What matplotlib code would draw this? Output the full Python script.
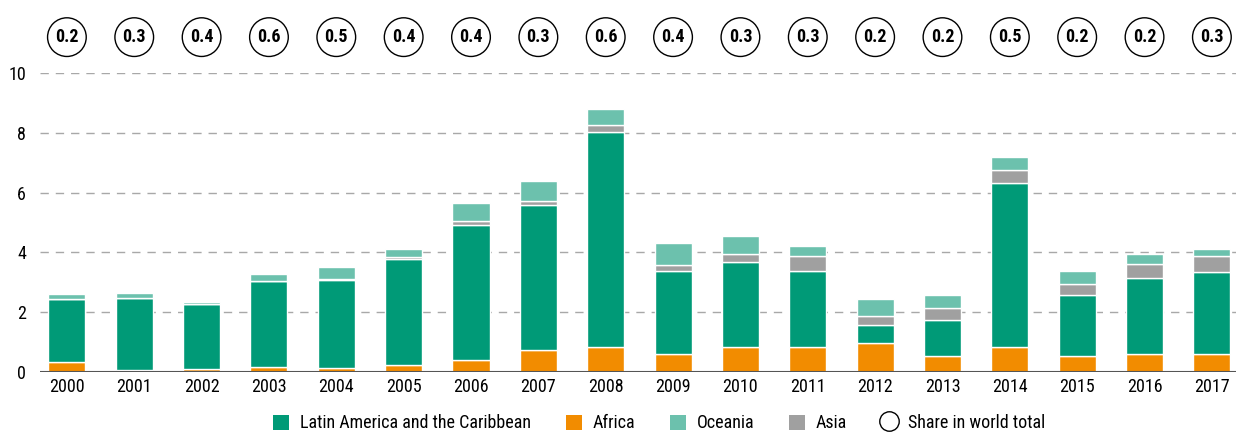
import matplotlib
matplotlib.use("Agg")
import matplotlib.pyplot as plt
import numpy as np
from matplotlib.patches import Patch
from matplotlib.lines import Line2D
from matplotlib import font_manager

years = [str(y) for y in range(2000, 2018)]
africa = [0.33, 0.05, 0.11, 0.16, 0.12, 0.22, 0.39, 0.75, 0.84, 0.59, 0.84, 0.84, 0.98, 0.52, 0.84, 0.52, 0.61, 0.61]
latam = [2.12, 2.44, 2.15, 2.88, 2.96, 3.57, 4.54, 4.82, 7.19, 2.80, 2.85, 2.55, 0.60, 1.23, 5.49, 2.07, 2.52, 2.73]
asia = [0.00, 0.00, 0.00, 0.00, 0.03, 0.06, 0.11, 0.15, 0.24, 0.20, 0.25, 0.48, 0.28, 0.39, 0.41, 0.34, 0.49, 0.55]
oceania = [0.17, 0.16, 0.08, 0.24, 0.40, 0.26, 0.61, 0.67, 0.52, 0.71, 0.61, 0.33, 0.58, 0.45, 0.45, 0.45, 0.34, 0.21]
share = ["0.2", "0.3", "0.4", "0.6", "0.5", "0.4", "0.4", "0.3", "0.6", "0.4", "0.3", "0.3", "0.2", "0.2", "0.5", "0.2", "0.2", "0.3"]

c_latam = "#009A77"
c_africa = "#F28C00"
c_oceania = "#6CC1AD"
c_asia = "#A0A0A0"

names = {f.name for f in font_manager.fontManager.ttflist}
main = "Liberation Sans"
for cand in ["Roboto Condensed", "Liberation Sans Narrow", "Roboto"]:
    if cand in names:
        main = cand
        break
plt.rcParams["font.family"] = [main, "DejaVu Sans"]

fig = plt.figure(figsize=(12.37, 4.32), dpi=100)
ax = fig.add_axes([0.0323, 0.139, 0.967, 0.692])

x = np.arange(len(years))
w = 0.55
a = np.array(africa); l = np.array(latam); s = np.array(asia); o = np.array(oceania)
kw = dict(width=w, edgecolor="white", linewidth=1.0, zorder=3)
ax.bar(x, a, color=c_africa, **kw)
ax.bar(x, l, bottom=a, color=c_latam, **kw)
ax.bar(x, s, bottom=a + l, color=c_asia, **kw)
ax.bar(x, o, bottom=a + l + s, color=c_oceania, **kw)

ax.set_xlim(-0.4, len(years) - 1 + 0.36)
ax.set_ylim(0, 10)
ax.set_yticks([0, 2, 4, 6, 8, 10])
ax.set_yticklabels(["0", "2", "4", "6", "8", "10"], fontsize=13)
ax.set_xticks(x)
ax.set_xticklabels(years, fontsize=13)
ax.tick_params(length=0, pad=4)
ax.tick_params(axis="y", pad=10)
for v in [2, 4, 6, 8, 10]:
    ax.axhline(v, color="#A8A8A8", linestyle=(0, (6, 5)), linewidth=1.0, zorder=1)
ax.axhline(0, color="#555555", linewidth=1.5, zorder=4)
for sp in ax.spines.values():
    sp.set_visible(False)

for xi, t in zip(x, share):
    ax.text(xi, 11.2, t, ha="center", va="center", fontsize=13, fontweight="bold",
            clip_on=False,
            bbox=dict(boxstyle="circle,pad=0.42", facecolor="white", edgecolor="black", linewidth=1.0))

handles = [
    Patch(facecolor=c_latam, edgecolor="none", label="Latin America and the Caribbean"),
    Patch(facecolor=c_africa, edgecolor="none", label="Africa"),
    Patch(facecolor=c_oceania, edgecolor="none", label="Oceania"),
    Patch(facecolor=c_asia, edgecolor="none", label="Asia"),
    Line2D([], [], marker="o", linestyle="none", markerfacecolor="white", markeredgecolor="black",
           markersize=14, label="Share in world total"),
]
fig.legend(handles=handles, loc="center", bbox_to_anchor=(0.533, 0.02), ncol=5, frameon=False,
           fontsize=13, handlelength=0.9, handleheight=0.9, columnspacing=1.9, handletextpad=0.6)

fig.savefig("out.png", dpi=100)
